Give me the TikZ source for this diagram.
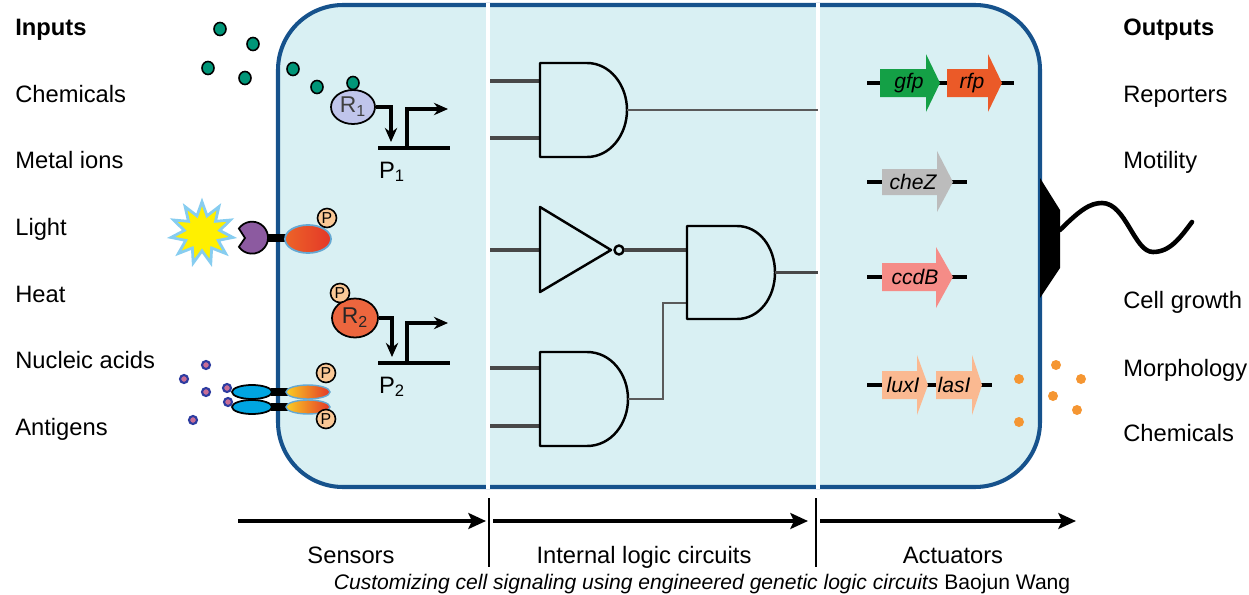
\documentclass[tikz,border=0pt]{standalone}
\usepackage{fontspec}
\setmainfont{Liberation Sans}
\usepackage{xcolor}
\usetikzlibrary{arrows.meta,shapes.geometric,positioning}

\definecolor{cellfill}{RGB}{217,240,243}
\definecolor{cellline}{RGB}{22,82,140}
\definecolor{wiregray}{RGB}{72,72,72}
\definecolor{dotteal}{RGB}{0,150,120}
\definecolor{ronefill}{RGB}{192,197,235}
\definecolor{rtwofill}{RGB}{236,102,62}
\definecolor{pfill}{RGB}{250,200,150}
\definecolor{staryellow}{RGB}{255,240,0}
\definecolor{starblue}{RGB}{135,205,240}
\definecolor{purplerec}{RGB}{140,90,160}
\definecolor{cyanrec}{RGB}{0,165,225}
\definecolor{gfpgreen}{RGB}{20,160,70}
\definecolor{rfporange}{RGB}{235,90,40}
\definecolor{chezgray}{RGB}{188,188,188}
\definecolor{ccdbpink}{RGB}{245,140,135}
\definecolor{luxpeach}{RGB}{250,185,145}
\definecolor{dotorange}{RGB}{245,150,50}
\definecolor{dotnavy}{RGB}{45,60,160}
\definecolor{dotpink}{RGB}{200,110,150}
\definecolor{kinleft}{RGB}{236,100,40}
\definecolor{kinmid}{RGB}{248,150,30}
\definecolor{kinright}{RGB}{228,55,40}
\definecolor{kinyellow}{RGB}{250,205,35}

\tikzset{
  lbl/.style={font=\fontsize{13.5}{16}\selectfont, anchor=base west, inner sep=0pt},
  hdr/.style={lbl, font=\fontsize{13.5}{16}\selectfont\bfseries},
  stage/.style={font=\fontsize{13.5}{16}\selectfont, anchor=base, inner sep=0pt},
  gate/.style={line width=1.4pt, line join=round},
  wire/.style={line width=2pt, draw=wiregray},
  thinwire/.style={line width=1.3pt, draw=wiregray!90},
  pcirc/.style={circle, draw, line width=0.9pt, fill=pfill, inner sep=0pt,
    minimum size=0.38cm, font=\fontsize{9}{9}\selectfont},
  reg/.style={ellipse, draw, line width=1pt, inner sep=0pt,
    font=\fontsize{13}{13}\selectfont},
  dna/.style={line width=1.8pt},
  tss/.style={line width=1.8pt, -{Stealth[length=8pt,width=7pt]}},
  genelbl/.style={font=\fontsize{12}{12}\selectfont\itshape, inner sep=0pt},
  axisarrow/.style={line width=2.2pt, -{Stealth[length=10pt,width=9pt,inset=2pt]}},
}

\begin{document}
\begin{tikzpicture}[x=0.02cm, y=-0.02cm]
  \useasboundingbox (0,0) rectangle (1249,595);

  % the cell
  \draw[draw=cellline, line width=2.3pt, fill=cellfill, rounded corners=1.3cm]
    (278,5) rectangle (1040,487);
  \draw[white, line width=2.2pt] (488,3) -- (488,489);
  \draw[white, line width=2.2pt] (818,3) -- (818,489);

  % input and output labels
  \node[hdr] (inputs) at (15,35) {Inputs};
  \node[lbl] (in1) at (15,102) {Chemicals};
  \node[lbl] (in2) at (15,168) {Metal ions};
  \node[lbl] (in3) at (15,235) {Light};
  \node[lbl] (in4) at (15,302) {Heat};
  \node[lbl] (in5) at (15,368) {Nucleic acids};
  \node[lbl] (in6) at (15,435) {Antigens};

  \node[hdr] (outputs) at (1123,35) {Outputs};
  \node[lbl] (out1) at (1123,102) {Reporters};
  \node[lbl] (out2) at (1123,168) {Motility};
  \node[lbl] (out3) at (1123,308) {Cell growth};
  \node[lbl] (out4) at (1123,376) {Morphology};
  \node[lbl] (out5) at (1123,441) {Chemicals};

  % sensor 1: chemical binds R1
  \node[reg, fill=ronefill, minimum width=0.88cm, minimum height=0.68cm,
    text=black!75] (r1) at (353,107) {R\textsubscript{1}};
  \foreach \x/\y in {220/29, 253/44, 208/68, 245/78, 293/69, 317/87, 353/83}
    \draw[line width=0.9pt, fill=dotteal] (\x,\y) circle[x radius=6, y radius=6.5];
  \coordinate (r1turn) at (391,142);
  \draw[tss] (r1.east) -| (r1turn);
  \draw[dna] (378,148) -- (450,148);
  \draw[tss] (407,148) |- (448,109);
  \node[lbl, anchor=base] (p1) at (392,178) {P\textsubscript{1}};

  % sensor 2: light receptor
  \fill[purplerec, draw=black, line width=1pt]
    (245,238) -- (238.9,228.5) arc[start angle=-145, end angle=145, radius=16] -- cycle;
  \node[star, star points=11, star point ratio=1.75, fill=staryellow, draw=starblue,
    line width=1.6pt, minimum size=1.25cm, inner sep=0pt] (sun) at (202,233) {};
  \draw[line width=4pt] (267,238) -- (287,238);
  \draw[draw=starblue!70!cellline, line width=1pt, left color=kinleft,
    middle color=kinmid, right color=kinright]
    (308,239) circle[x radius=23, y radius=14];
  \node[pcirc] (pa) at (327,218) {P};

  % sensor 3: phosphorylated R2
  \node[reg, fill=rtwofill, minimum width=0.92cm, minimum height=0.78cm,
    text=black!85] (r2) at (355,318) {R\textsubscript{2}};
  \node[pcirc] (pb) at (340,293) {P};
  \coordinate (r2turn) at (392,357);
  \draw[tss] (r2.east) -| (r2turn);
  \draw[dna] (378,363) -- (450,363);
  \draw[tss] (407,363) |- (448,323);
  \node[lbl, anchor=base] (p2) at (392,393) {P\textsubscript{2}};

  % sensor 4: antigen receptor pair
  \foreach \x/\y in {206/365, 184/379, 206/392, 193/420, 227/388, 228/402}
    \draw[dotnavy, line width=1.2pt, fill=dotpink] (\x,\y) circle[radius=4];
  \foreach \y in {392,407} {
    \draw[line width=1pt, fill=cyanrec] (252,\y) circle[x radius=20, y radius=7];
    \draw[line width=4pt] (271,\y) -- (288,\y);
    \draw[draw=starblue!70!cellline, line width=0.8pt, left color=kinyellow,
      middle color=kinmid, right color=kinright] (308,\y) circle[x radius=22, y radius=7];
  }
  \node[pcirc] (pc) at (326,373) {P};
  \node[pcirc] (pd) at (326,419) {P};

  % logic gates
  \coordinate (and1out) at (627,110);
  \coordinate (notout) at (623.5,250);
  \coordinate (and3out) at (775,272.5);
  \coordinate (and4out) at (628,399);

  \draw[wire] (490,81) -- (540,81);
  \draw[wire] (490,138) -- (540,138);
  \draw[gate] (540,63) -- (587,63) .. controls (610,63) and (627,85) .. (and1out)
    .. controls (627,135) and (610,157) .. (587,157) -- (540,157) -- cycle;
  \draw[thinwire] (and1out) -- (818,110);

  \draw[wire] (490,250) -- (540,250);
  \draw[gate] (540,207) -- (611,250) -- (540,292) -- cycle;
  \draw[gate, fill=cellfill] (619,250) circle[radius=4.5];
  \draw[wire] (notout) -- (687,250);

  \draw[wire] (490,368) -- (540,368);
  \draw[wire] (490,426) -- (540,426);
  \draw[gate] (540,352) -- (587,352) .. controls (611,352) and (628,374) .. (and4out)
    .. controls (628,424) and (611,446) .. (587,446) -- (540,446) -- cycle;
  \draw[thinwire] (and4out) -- (663,399) -- (663,303) -- (687,303);

  \draw[gate] (687,226) -- (737,226) .. controls (759,226) and (775,247) .. (and3out)
    .. controls (775,298) and (759,319) .. (737,319) -- (687,319) -- cycle;
  \draw[wire] (and3out) -- (818,272.5);

  % actuator genes
  \draw[dna] (867,83) -- (1014,83);
  \fill[gfpgreen] (880,69) -- (926,69) -- (926,54) -- (940,83) -- (926,112) -- (926,97) -- (880,97) -- cycle;
  \fill[rfporange] (947,69) -- (988,69) -- (988,54) -- (1002,83) -- (988,112) -- (988,97) -- (947,97) -- cycle;
  \node[genelbl] (gfp) at (909,83) {gfp};
  \node[genelbl] (rfp) at (972,83) {rfp};

  \draw[dna] (867,182) -- (967,182);
  \fill[chezgray] (882,169) -- (937,169) -- (937,151) -- (953,182) -- (937,212) -- (937,195) -- (882,195) -- cycle;
  \node[genelbl] (chez) at (913,182) {cheZ};

  \draw[dna] (867,277) -- (967,277);
  \fill[ccdbpink] (882,263) -- (936,263) -- (936,247) -- (953,277) -- (936,308) -- (936,291) -- (882,291) -- cycle;
  \node[genelbl] (ccdb) at (915,277) {ccdB};

  \draw[dna] (867,385) -- (992,385);
  \fill[luxpeach] (882,371) -- (917,371) -- (917,355) -- (928,385) -- (917,415) -- (917,399) -- (882,399) -- cycle;
  \fill[luxpeach] (936,371) -- (972,371) -- (972,355) -- (982,385) -- (972,415) -- (972,399) -- (936,399) -- cycle;
  \node[genelbl] (luxi) at (903,385) {luxI};
  \node[genelbl] (lasi) at (954,385) {lasI};

  \foreach \x/\y in {1019/379, 1056/365, 1081/379, 1053/396, 1077/410, 1019/422}
    \fill[dotorange] (\x,\y) circle[radius=5];

  % flagellum
  \fill (1040,178) -- (1060,210) -- (1060,268) -- (1040,298) -- cycle;
  \draw[line width=2.6pt, line cap=round] (1060,230) .. controls (1080,210) and (1090,203) .. (1102,203)
    .. controls (1126,203) and (1134,252) .. (1153,252)
    .. controls (1170,252) and (1180,238) .. (1192,222);

  % stages along the bottom
  \coordinate (bar1top) at (489,498);
  \coordinate (bar1bot) at (489,567);
  \coordinate (bar2top) at (816,498);
  \coordinate (bar2bot) at (816,567);
  \draw[line width=1.5pt] (bar1top) -- (bar1bot);
  \draw[line width=1.5pt] (bar2top) -- (bar2bot);
  \draw[axisarrow] (238,521) -- (486,521);
  \draw[axisarrow] (493,521) -- (808,521);
  \draw[axisarrow] (820,521) -- (1076,521);
  \node[stage] (sensors) at (351,563) {Sensors};
  \node[stage] (logic) at (644,563) {Internal logic circuits};
  \node[stage] (actuators) at (953,563) {Actuators};

  \node[font=\fontsize{12}{14}\selectfont, anchor=base, inner sep=0pt] (credit) at (702,589)
    {\textit{Customizing cell signaling using engineered genetic logic circuits} Baojun Wang};
\end{tikzpicture}
\end{document}
